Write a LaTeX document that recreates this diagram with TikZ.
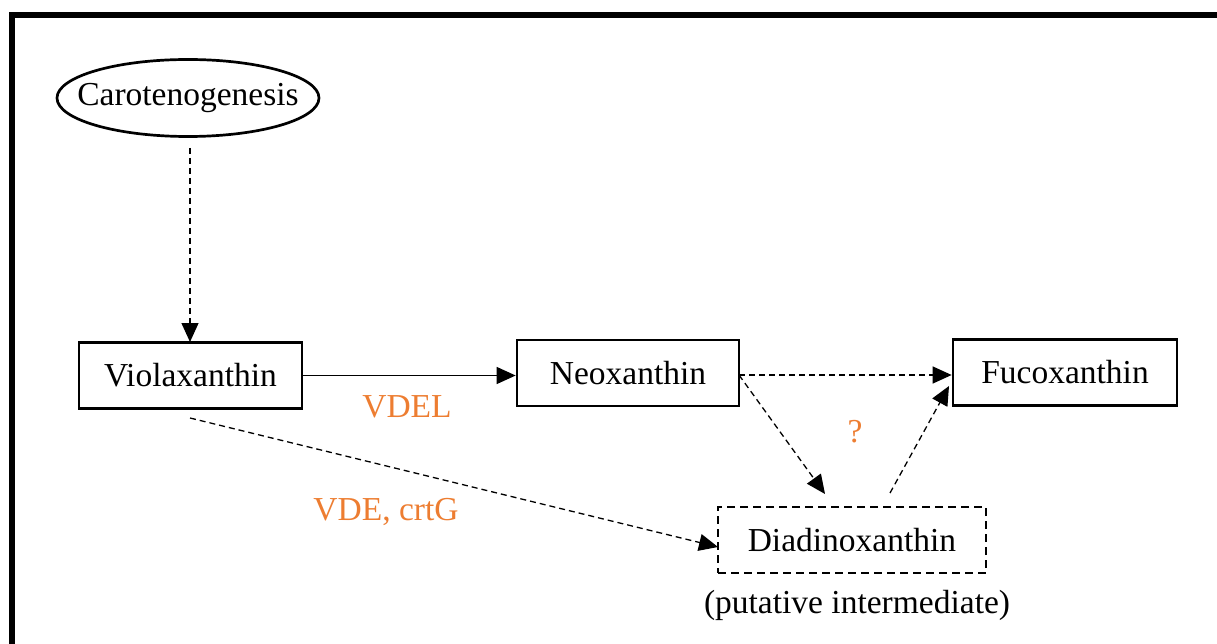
\documentclass[tikz,border=0pt]{standalone}
\usepackage{fontspec}
\setmainfont{Liberation Serif}
\usetikzlibrary{arrows.meta,shapes.geometric}
\definecolor{lblorange}{RGB}{237,125,49}
\begin{document}
\begin{tikzpicture}[x=1pt,y=-1pt,
  every node/.style={font=\fontsize{33.5}{40}\selectfont, inner sep=0pt},
  boxnode/.style={draw, line width=2.7pt, minimum width=#1, minimum height=66pt},
  dbox/.style={draw, line width=2.7pt, dash pattern=on 8pt off 5pt, minimum width=#1, minimum height=66pt},
  conn/.style={line width=1.3pt, -{Triangle[length=19pt,width=17pt]}},
  dconn/.style={conn, dash pattern=on 6pt off 4pt},
  lbl/.style={text=lblorange}]
\useasboundingbox (0,0) rectangle (1217,644);
\draw[line width=6pt] (12,644) -- (12,15) -- (1217,15);
\node[draw, ellipse, line width=2.7pt, inner xsep=-19pt, minimum width=262pt, minimum height=77pt] (caro) at (188,98) {Carotenogenesis};
\node[boxnode=223pt] (vio) at (190.5,375.5) {Violaxanthin};
\node[boxnode=222pt] (neo) at (628,373) {Neoxanthin};
\node[boxnode=224pt] (fuco) at (1065,372.5) {Fucoxanthin};
\node[dbox=268pt] (dia) at (852,540) {Diadinoxanthin};
\node (put) at (857,605) {(putative intermediate)};
\node[lbl] (vdel) at (407,407) {VDEL};
\node[lbl] (vde) at (386,512) {VDE, crtG};
\node[lbl] (q) at (855,432) {?};
\coordinate (caroOut) at (190,148);
\coordinate (vioIn) at (190,342);
\coordinate (vioOut) at (190,418);
\coordinate (diaInL) at (718,547);
\coordinate (neoOut) at (739,375);
\coordinate (diaInT) at (825,494);
\coordinate (diaOut) at (890,493);
\coordinate (fucoInB) at (949,386);
\draw[dconn] (caroOut) -- (vioIn);
\draw[conn] (vio.east) -- (vio.east -| neo.west);
\draw[dconn] (neoOut) -- (neoOut -| fuco.west);
\draw[dconn] (neoOut) -- (diaInT);
\draw[dconn] (diaOut) -- (fucoInB);
\draw[dconn] (vioOut) -- (diaInL);
\end{tikzpicture}
\end{document}
